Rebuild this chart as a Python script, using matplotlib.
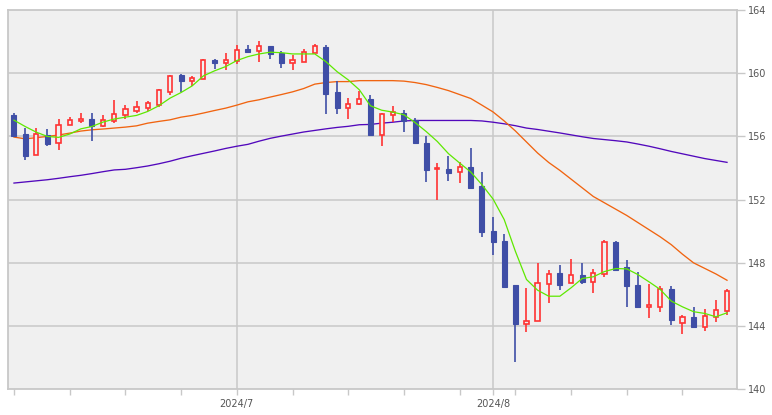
"""USD/JPY daily candles, Jun-Aug 2024, with 5/25/75-day moving averages."""
import numpy as np
import pandas as pd
import matplotlib
matplotlib.use("Agg")
import matplotlib.pyplot as plt

dates = pd.bdate_range("2024-06-03", "2024-08-30")

opens = [157.37, 156.17, 154.80, 156.09, 155.58, 156.72, 156.95, 157.12, 156.63, 156.99,
         157.35, 157.64, 157.77, 158.02, 158.84, 159.89, 159.53, 159.66, 160.84, 160.67,
         160.80, 161.54, 161.41, 161.73, 161.30, 160.63, 160.70, 161.26, 161.66, 158.82,
         157.79, 158.04, 158.38, 156.06, 157.35, 157.49, 157.05, 155.60, 153.94, 153.96,
         153.75, 154.08, 152.84, 150.04, 149.41, 146.57, 144.12, 144.34, 146.68, 147.33,
         146.74, 147.24, 146.80, 147.31, 149.35, 147.71, 146.63, 145.20, 145.20, 146.32,
         144.21, 144.59, 143.93, 144.59, 144.97]
highs = [157.50, 156.53, 156.53, 156.48, 157.12, 157.22, 157.50, 157.50, 157.35, 158.32,
         157.98, 158.27, 158.23, 158.99, 159.89, 159.98, 159.83, 160.91, 160.91, 161.28,
         161.79, 161.79, 162.04, 161.73, 161.41, 161.14, 161.54, 161.85, 161.79, 159.50,
         158.44, 158.88, 158.63, 157.51, 157.94, 157.68, 157.18, 156.02, 154.34, 154.78,
         154.40, 155.28, 153.77, 150.93, 149.85, 146.60, 146.44, 147.96, 147.58, 147.89,
         148.27, 148.02, 147.64, 149.47, 149.41, 148.15, 147.41, 146.69, 146.52, 146.52,
         144.72, 145.22, 145.10, 145.62, 146.32]
lows = [156.00, 154.53, 154.80, 155.37, 155.11, 156.72, 156.84, 155.74, 156.57, 156.88,
        157.13, 157.51, 157.60, 157.89, 158.65, 158.80, 159.16, 159.62, 160.27, 160.23,
        160.61, 161.37, 160.73, 160.92, 160.36, 160.23, 160.70, 161.26, 157.39, 157.39,
        157.13, 157.96, 156.04, 155.37, 156.93, 156.25, 155.56, 153.09, 151.98, 153.16,
        153.03, 152.65, 149.62, 148.48, 146.45, 141.72, 143.62, 144.34, 145.45, 146.27,
        146.74, 146.68, 146.08, 147.09, 147.53, 145.20, 145.20, 144.50, 144.88, 144.04,
        143.52, 143.93, 143.68, 144.25, 144.67]
closes = [156.04, 154.78, 156.17, 155.54, 156.72, 157.05, 157.12, 156.63, 157.05, 157.41,
          157.73, 157.85, 158.13, 158.93, 159.81, 159.53, 159.69, 160.82, 160.67, 160.84,
          161.45, 161.37, 161.71, 161.20, 160.67, 160.82, 161.33, 161.71, 158.71, 157.83,
          158.06, 158.36, 156.11, 157.43, 157.54, 156.97, 155.56, 153.85, 153.98, 153.66,
          154.07, 152.71, 149.93, 149.30, 146.50, 144.12, 144.34, 146.74, 147.31, 146.59,
          147.24, 146.78, 147.35, 149.33, 147.53, 146.53, 145.20, 145.35, 146.32, 144.38,
          144.57, 143.93, 144.63, 145.03, 146.25]

ma5 = [157.03, 156.63, 156.27, 156.00, 155.94, 156.15, 156.48, 156.63, 156.91, 157.10,
       157.22, 157.33, 157.58, 157.94, 158.42, 158.78, 159.20, 159.83, 160.15, 160.42,
       160.80, 161.05, 161.22, 161.33, 161.30, 161.22, 161.22, 161.22, 160.73, 160.10,
       159.58, 158.95, 157.94, 157.66, 157.54, 157.37, 156.88, 156.31, 155.68, 154.91,
       154.32, 153.75, 152.95, 152.04, 150.74, 148.74, 146.95, 146.27, 145.89, 145.89,
       146.42, 147.01, 147.12, 147.45, 147.64, 147.62, 147.26, 146.80, 146.32, 145.58,
       145.22, 144.91, 144.80, 144.59, 144.84]
ma25 = [155.96, 155.85, 155.92, 156.00, 156.09, 156.21, 156.34, 156.42, 156.47, 156.53,
        156.59, 156.67, 156.84, 156.95, 157.05, 157.22, 157.33, 157.48, 157.64, 157.79,
        157.98, 158.19, 158.32, 158.49, 158.65, 158.82, 159.03, 159.31, 159.41, 159.47,
        159.47, 159.53, 159.53, 159.53, 159.53, 159.50, 159.41, 159.28, 159.10, 158.90,
        158.65, 158.40, 157.98, 157.55, 156.98, 156.35, 155.65, 154.95, 154.35, 153.85,
        153.30, 152.75, 152.20, 151.80, 151.40, 151.00, 150.55, 150.10, 149.65, 149.15,
        148.55, 148.00, 147.65, 147.30, 146.90]
ma75 = [153.05, 153.12, 153.19, 153.26, 153.35, 153.45, 153.54, 153.65, 153.77, 153.88,
        153.92, 154.02, 154.13, 154.27, 154.43, 154.62, 154.78, 154.93, 155.08, 155.24,
        155.38, 155.50, 155.70, 155.88, 156.02, 156.15, 156.28, 156.38, 156.48, 156.57,
        156.64, 156.74, 156.76, 156.84, 156.90, 156.98, 157.01, 157.01, 157.01, 157.01,
        157.01, 157.01, 156.98, 156.90, 156.80, 156.68, 156.53, 156.44, 156.33, 156.22,
        156.10, 155.98, 155.87, 155.80, 155.73, 155.65, 155.52, 155.38, 155.22, 155.05,
        154.90, 154.75, 154.60, 154.48, 154.36]

C_UP = "#ff3333"
C_DOWN = "#3f4ea6"
C_BG = "#f0f0f0"
C_GRID = "#c8c8c8"
C_TEXT = "#555555"

o, h, l, c = map(np.asarray, (opens, highs, lows, closes))
x = np.arange(len(dates))
up = c >= o
lo_body = np.minimum(o, c)
hi_body = np.maximum(o, c)

fig = plt.figure(figsize=(7.72, 4.15), dpi=100)
ax = fig.add_axes([8.3 / 772, 1 - 389.3 / 415, 728.4 / 772, 379.3 / 415])
ax.set_facecolor(C_BG)

# grid
for yv in [144, 148, 152, 156, 160]:
    ax.axhline(yv, color=C_GRID, lw=1.1, zorder=1)
month_starts = [i for i in range(1, len(dates)) if dates[i].month != dates[i - 1].month]
for i in month_starts:
    ax.axvline(x[i], color=C_GRID, lw=1.1, zorder=1)

# moving averages
ax.plot(x, ma75, color="#5208bc", lw=0.95, zorder=2)
ax.plot(x, ma25, color="#f06410", lw=0.95, zorder=2)
ax.plot(x, ma5, color="#5ee800", lw=0.9, zorder=4)

# down candles
d = ~up
ax.vlines(x[d], l[d], h[d], color=C_DOWN, lw=1.2, zorder=3)
ax.bar(x[d], hi_body[d] - lo_body[d], bottom=lo_body[d], width=0.45,
       color=C_DOWN, edgecolor=C_DOWN, lw=0.8, zorder=3)
# up candles (hollow)
ax.vlines(x[up], l[up], lo_body[up], color=C_UP, lw=1.2, zorder=3)
ax.vlines(x[up], hi_body[up], h[up], color=C_UP, lw=1.2, zorder=3)
ax.bar(x[up], np.maximum(hi_body[up] - lo_body[up], 0.02), bottom=lo_body[up], width=0.38,
       color=C_BG, edgecolor=C_UP, lw=1.2, zorder=3)

ax.set_xlim(-0.51, 64.87)
ax.set_ylim(140, 164)

# y axis on the right
ax.yaxis.tick_right()
ax.set_yticks([140, 144, 148, 152, 156, 160, 164])
ax.tick_params(axis="y", length=6, width=1, color=C_GRID, labelsize=7, labelcolor=C_TEXT, pad=2)

# x axis: weekly minor ticks, month labels
mondays = [i for i in range(len(dates)) if dates[i].weekday() == 0]
ax.set_xticks(mondays, minor=True)
ax.set_xticks(month_starts)
ax.set_xticklabels([f"{dates[i].year}/{dates[i].month}" for i in month_starts])
ax.tick_params(axis="x", which="both", length=4, width=1, color=C_GRID,
               labelsize=7, labelcolor=C_TEXT, pad=3)

for s in ax.spines.values():
    s.set_color(C_GRID)
    s.set_linewidth(1.3)

fig.savefig("out.png", dpi=100, facecolor="white")
